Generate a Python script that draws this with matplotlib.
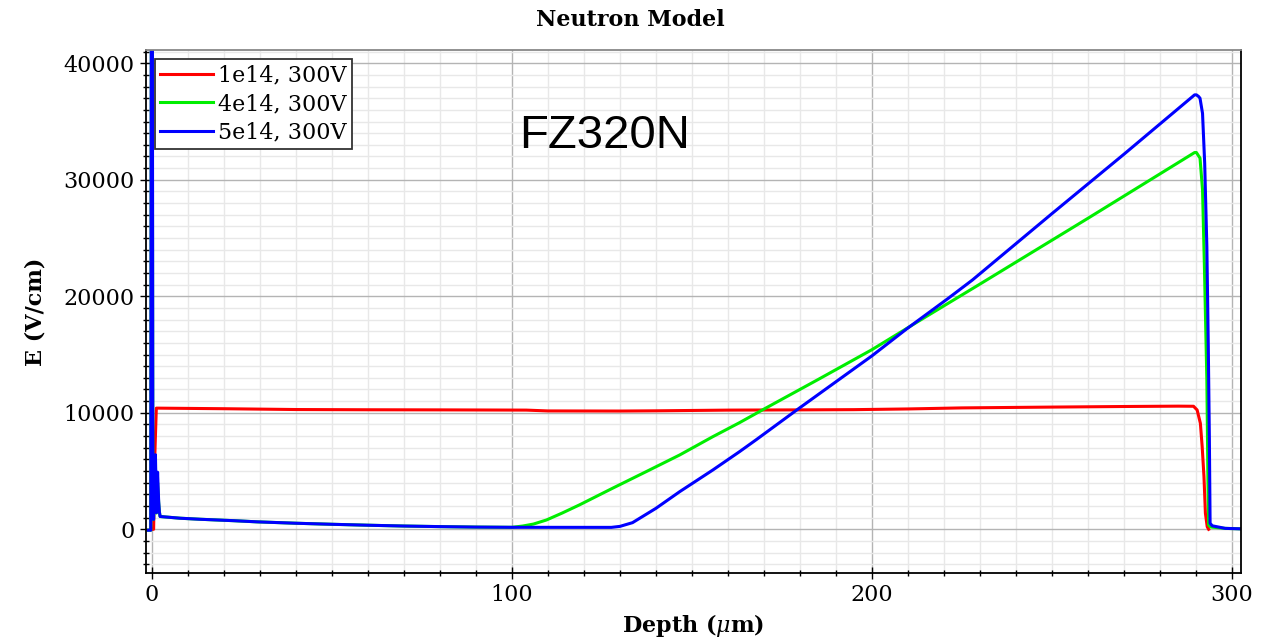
import numpy as np
import matplotlib.pyplot as plt
from matplotlib.ticker import MultipleLocator

# depth in um, field in V/cm
red_x = [0, 0.5, 0.8, 1.0, 1.25, 5, 20, 40, 60, 80, 104, 110, 130, 140, 160, 180, 195,
         210, 225, 250, 270, 285, 289.3, 290.3, 291.2, 291.7, 292.2, 292.6, 293.1, 293.5]
red_y = [0, 0, 6000, 8000, 10400, 10390, 10350, 10280, 10260, 10250, 10230, 10160, 10150,
         10170, 10230, 10250, 10270, 10330, 10420, 10490, 10540, 10570, 10560, 10240, 9100,
         7100, 4520, 1370, 220, 0]

blue_x = [-1.0, -0.3, -0.1, 0.1, 0.3, 0.5, 0.8, 1.0, 1.3, 1.6, 1.9, 2.1, 2.3, 3.7, 7.9,
          13.5, 22.7, 29.2, 40, 50, 60, 70, 80, 90, 100, 127.6, 130, 133.5, 140, 146.6,
          155.8, 163.2, 167.9, 179.1, 200, 209.5, 221.2, 227.9, 250, 270, 289.6, 290.1,
          290.7, 291.1, 291.8, 292.4, 293.0, 293.4, 293.7, 293.9, 294.5, 298.1, 302.4]
blue_y = [-80, -80, 60000, 60000, 900, 850, 5200, 6400, 1430, 4900, 2400, 1500, 1100, 1060,
          950, 860, 740, 640, 520, 430, 350, 280, 230, 190, 170, 165, 250, 570, 1800, 3230,
          5090, 6660, 7700, 10240, 14890, 17170, 19830, 21400, 27100, 32200, 37290, 37290,
          37150, 37000, 35700, 31400, 24260, 15680, 7700, 520, 300, 80, 40]

green_x = [-1.0, -0.3, -0.1, 0.1, 0.3, 0.5, 0.8, 1.0, 1.3, 1.6, 1.9, 2.1, 2.3, 3.7, 7.9,
           13.5, 22.7, 29.2, 40, 50, 60, 70, 80, 90, 100, 103, 106, 109.6, 114, 118.8,
           128, 137.3, 146.6, 155.8, 163.2, 169.6, 185, 200, 215, 230, 260, 289.6, 290.1,
           291.1, 291.8, 292.3, 293.0, 293.3, 293.5, 294, 298, 302.4]
green_y = [-80, -80, 50000, 50000, 900, 850, 4500, 5500, 1400, 4000, 2300, 1500, 1100, 1060,
           950, 860, 740, 640, 520, 430, 350, 280, 230, 190, 170, 280, 450, 800, 1400, 2100,
           3530, 4950, 6380, 7950, 9150, 10250, 12850, 15420, 18250, 21050, 26700, 32340,
           32340, 31860, 29140, 22850, 12810, 4230, 370, 200, 80, 40]

labels = ['1e14, 300V', '4e14, 300V', '5e14, 300V']

plt.rcParams['mathtext.fontset'] = 'dejavuserif'

fig = plt.figure(figsize=(12.69, 6.38), dpi=100)
ax = fig.add_axes([145.7 / 1269, 1 - 573.3 / 638, 1095 / 1269, 523.3 / 638])

ax.plot(red_x, red_y, color='#ff0000', lw=2.2, label=labels[0])
ax.plot(green_x, green_y, color='#00ee00', lw=2.2, label=labels[1])
ax.plot(blue_x, blue_y, color='#0000ff', lw=2.2, label=labels[2])

ax.set_xlim(-1.7, 302.4)
ax.set_ylim(-3777, 41140)

ax.xaxis.set_major_locator(MultipleLocator(100))
ax.xaxis.set_minor_locator(MultipleLocator(10))
ax.yaxis.set_major_locator(MultipleLocator(10000))
ax.yaxis.set_minor_locator(MultipleLocator(1000))

ax.grid(which='major', color='#b4b4b4', lw=1.0)
ax.grid(which='minor', color='#e8e8e8', lw=1.0)
ax.set_axisbelow(True)

ax.tick_params(which='major', direction='inout', length=9, width=1.0,
               labelsize=16, top=False, right=False)
ax.tick_params(which='minor', direction='inout', length=5, width=1.0,
               top=False, right=False)
for lab in ax.get_xticklabels() + ax.get_yticklabels():
    lab.set_family('DejaVu Serif')

ax.spines['top'].set_color('#888888')
for s in ['left', 'bottom', 'right']:
    ax.spines[s].set_color('black')
for s in ax.spines.values():
    s.set_linewidth(1.3)

ax.set_xlabel(r'Depth ($\mu$m)', fontsize=16, family='DejaVu Serif', fontweight='bold', labelpad=4)
ax.set_ylabel('E (V/cm)', fontsize=16, family='DejaVu Serif', fontweight='bold', labelpad=12)
fig.text(0.497, 0.968, 'Neutron Model', ha='center', va='center', fontsize=16,
         family='DejaVu Serif', fontweight='bold')

ax.text(0.341, 0.8127, 'FZ320N', transform=ax.transAxes, fontsize=34,
        family='Liberation Sans', va='baseline', ha='left')

leg = ax.legend(loc='upper left', prop={'family': 'DejaVu Serif', 'size': 16},
                handlelength=2.4, handletextpad=0.2, borderaxespad=0.4,
                borderpad=0.25, labelspacing=0.3, fancybox=False, framealpha=1)
leg.get_frame().set_edgecolor('#333333')
leg.get_frame().set_linewidth(1.3)

plt.savefig('out.png', dpi=100)
